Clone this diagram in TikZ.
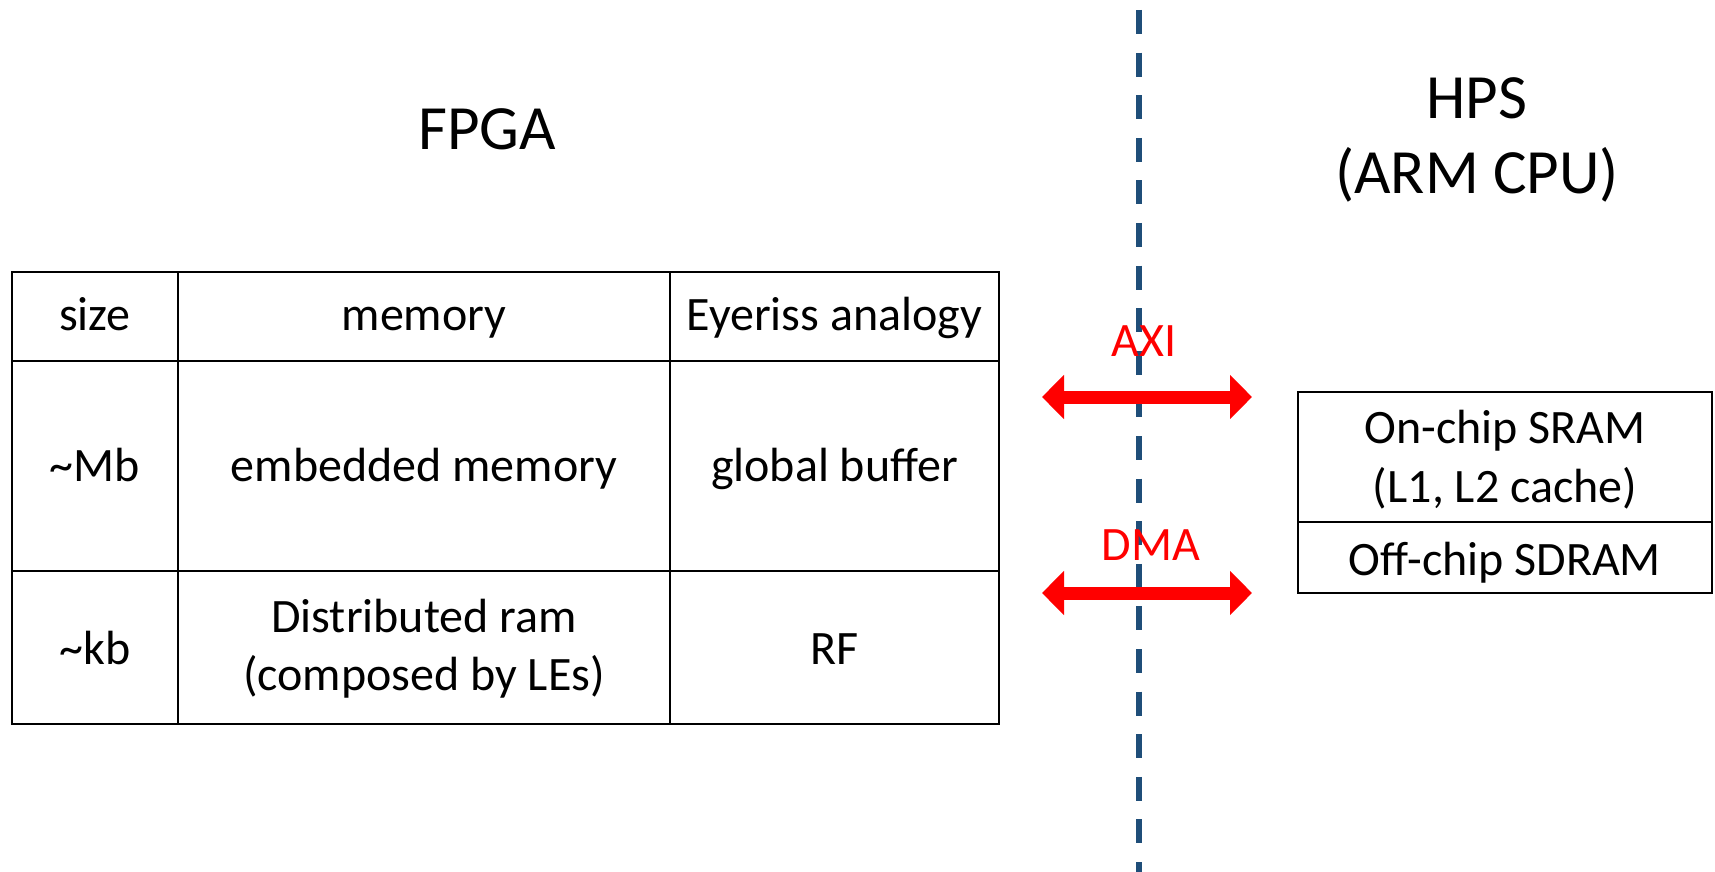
\documentclass[tikz,border=0pt]{standalone}
\usepackage{fontspec}
\setmainfont{Carlito}
\usetikzlibrary{arrows.meta}
\definecolor{divider}{HTML}{1F4E79}
\newcommand\bodyfont{\fontsize{24pt}{29pt}\selectfont}
\newcommand\titlefont{\fontsize{31.5pt}{37.5pt}\selectfont}
\tikzset{
  cell/.style={draw, line width=1.25pt, inner sep=0pt, outer sep=0pt},
  txt/.style={font=\bodyfont, inner sep=0pt, anchor=base},
  title/.style={font=\titlefont, inner sep=0pt, anchor=base},
  buslabel/.style={txt, text=red},
  bus/.style={red, line width=6.5pt,
    {Triangle[length=11pt,width=21.5pt]}-{Triangle[length=11pt,width=21.5pt]}},
  divline/.style={divider, line width=2.75pt, dash pattern=on 12pt off 9.3pt},
}
\begin{document}
\begin{tikzpicture}[x=0.5pt, y=-0.5pt]
  \useasboundingbox (0,0) rectangle (1715,872);

  % boundary between FPGA and HPS
  \coordinate (divTop) at (1139,10);
  \coordinate (divBot) at (1139,872);
  \draw[divline] (divTop) -- (divBot);

  % headings
  \node[title] (fpga) at (487,149) {FPGA};
  \node[title] (hps) at (1477,119) {HPS};
  \node[title] (arm) at (1477,193) {(ARM CPU)};

  % FPGA memory table: cells
  \node[cell, minimum width=83pt, minimum height=44.5pt] (h1) at (95,316.5) {};
  \node[cell, minimum width=246pt, minimum height=44.5pt] (h2) at (424,316.5) {};
  \node[cell, minimum width=164.5pt, minimum height=44.5pt] (h3) at (834.5,316.5) {};
  \node[cell, minimum width=83pt, minimum height=105pt] (a1) at (95,466) {};
  \node[cell, minimum width=246pt, minimum height=105pt] (a2) at (424,466) {};
  \node[cell, minimum width=164.5pt, minimum height=105pt] (a3) at (834.5,466) {};
  \node[cell, minimum width=83pt, minimum height=76.5pt] (b1) at (95,647.5) {};
  \node[cell, minimum width=246pt, minimum height=76.5pt] (b2) at (424,647.5) {};
  \node[cell, minimum width=164.5pt, minimum height=76.5pt] (b3) at (834.5,647.5) {};

  % FPGA memory table: contents
  \node[txt] (h1t) at (95,330) {size};
  \node[txt] (h2t) at (424,330) {memory};
  \node[txt] (h3t) at (834.5,330) {Eyeriss analogy};
  \node[txt] (a1t) at (95,481.5) {\textasciitilde Mb};
  \node[txt] (a2t) at (424,481.5) {embedded memory};
  \node[txt] (a3t) at (834.5,481.5) {global buffer};
  \node[txt] (b1t) at (95,664) {\textasciitilde kb};
  \node[txt] (b2t) at (424,632) {Distributed ram};
  \node[txt] (b2u) at (424,690) {(composed by LEs)};
  \node[txt] (b3t) at (834.5,664) {RF};

  % HPS memories
  \node[cell, minimum width=207pt, minimum height=65pt] (sram) at (1505,457) {};
  \node[cell, minimum width=207pt, minimum height=35.5pt] (sdram) at (1505,557.5) {};
  \node[txt] (sramt) at (1505,443.5) {On-chip SRAM};
  \node[txt] (sramu) at (1505,502) {(L1, L2 cache)};
  \node[txt] (sdramt) at (1505,575) {Off-chip SDRAM};

  % interconnect arrows
  \coordinate (axiL) at (1042,397);
  \coordinate (axiR) at (1252,397);
  \draw[bus] (axiL) -- (axiR);
  \node[buslabel] (axi) at (1144,356) {AXI};

  \coordinate (dmaL) at (1042,593);
  \coordinate (dmaR) at (1252,593);
  \draw[bus] (dmaL) -- (dmaR);
  \node[buslabel] (dma) at (1151,560) {DMA};
\end{tikzpicture}
\end{document}
